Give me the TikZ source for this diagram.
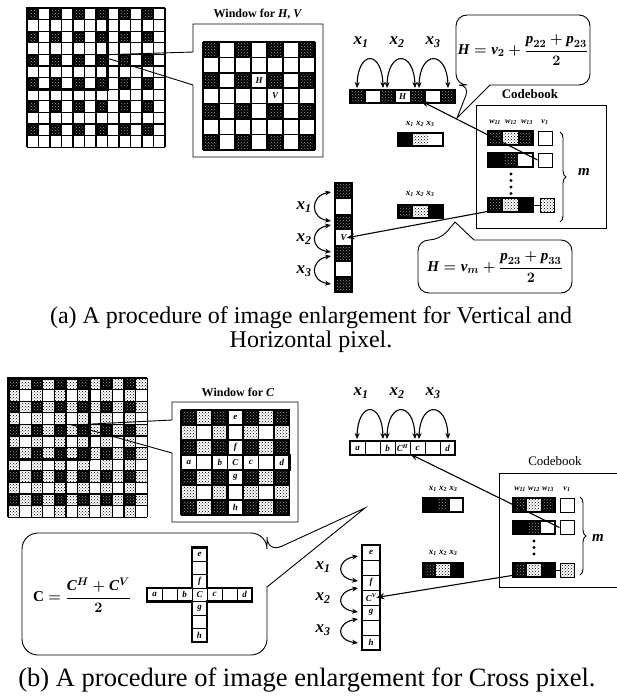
\documentclass[tikz,border=0pt]{standalone}
\usepackage{fontspec}
\usepackage{amsmath}
\setmainfont{Liberation Serif}
\usetikzlibrary{patterns,arrows.meta,decorations.pathreplacing}

\newcommand{\dkcell}[4]{%
  \fill[black] ({#1},{#2}) rectangle ({#1+#3},{#2+#4});
  \fill[pattern=crosshatch dots, pattern color=white!60!black] ({#1+1.8},{#2+1.8}) rectangle ({#1+#3-1.8},{#2+#4-1.8});}
\newcommand{\ltcell}[4]{%
  \fill[pattern=crosshatch dots, pattern color=black] ({#1},{#2}) rectangle ({#1+#3},{#2+#4});}
\newcommand{\bkcell}[4]{\fill[black] ({#1},{#2}) rectangle ({#1+#3},{#2+#4});}
\newcommand{\gridlines}[7]{%
  \foreach \gi in {0,...,#3} {\draw[line width=#7] ({#1+\gi*#5},{#2}) -- ({#1+\gi*#5},{#2+#4*#6});}
  \foreach \gj in {0,...,#4} {\draw[line width=#7] ({#1},{#2+\gj*#6}) -- ({#1+#3*#5},{#2+\gj*#6});}}

\begin{document}
\begin{tikzpicture}[x=1pt,y=-1pt,
  xlab/.style={font=\bfseries\itshape\fontsize{17}{17}\selectfont, inner sep=0},
  smlab/.style={font=\bfseries\itshape\fontsize{9}{9}\selectfont, inner sep=0},
  wlab/.style={font=\bfseries\itshape\fontsize{8}{8}\selectfont, inner sep=0},
  cellet/.style={font=\bfseries\itshape\fontsize{9}{9}\selectfont, inner sep=0},
  frm/.style={font=\bfseries\boldmath\fontsize{15}{15}\selectfont, inner sep=0},
  capt/.style={font=\fontsize{24}{24}\selectfont, inner sep=0},
  ttl/.style={font=\bfseries\fontsize{12}{12}\selectfont, inner sep=0},
  bub/.style={line width=0.9},
  arc/.style={{Stealth[length=6,width=5]}-{Stealth[length=6,width=5]}, line width=1.1},
  conn/.style={-{Stealth[length=8,width=6]}, line width=1.1},
  vbox/.style={draw, line width=1, minimum width=14, minimum height=14, inner sep=0, fill=white}]
\useasboundingbox (0,0) rectangle (617,696);

%================= (a) =================
% big image grid
\foreach \ri in {0,...,11}{\foreach \ci in {0,...,11}{%
  \ifodd\ri\else\ifodd\ci\else\dkcell{27+\ci*11.5}{8+\ri*11.6}{11.5}{11.6}\fi\fi}}
\gridlines{27}{8}{12}{12}{11.5}{11.6}{1.1}
\draw[line width=2.6] (27,8) rectangle ({27+7*11.5},{8+7*11.6});

% window callout
\coordinate (tipA) at (97,55);
\draw[line width=0.9] (193,52) -- (tipA) -- (193,85) -- (193,157) -- (323,157) -- (323,24) -- (193,24) -- cycle;
\node[ttl] (wlabA) at (258,14) {Window for \textit{H}, \textit{V}};
\foreach \ri in {0,...,6}{\foreach \ci in {0,...,6}{%
  \ifodd\ri\else\ifodd\ci\else\dkcell{203+\ci*16}{42+\ri*15.4}{16}{15.4}\fi\fi}}
\gridlines{203}{42}{7}{7}{16}{15.4}{1.6}
\node[cellet] (wH) at (259,80.5) {H};
\node[cellet] (wV) at (275,96) {V};

% horizontal strip with H
\foreach \ci in {0,2,4,6} {\dkcell{350+\ci*15}{90}{15}{13}}
\gridlines{350}{90}{7}{1}{15}{13}{1}
\draw[line width=2] (350,90) rectangle (455,103);
\node[cellet] (sH) at (402.5,96.5) {H};
\coordinate (sHend) at (421,101);
\node[xlab] (ax1) at (361,42) {x\textsubscript{1}};
\node[xlab] (ax2) at (397,42) {x\textsubscript{2}};
\node[xlab] (ax3) at (433,42) {x\textsubscript{3}};
\draw[arc] (357,88) .. controls (358,50) and (382,50) .. (383,88);
\draw[arc] (387,88) .. controls (388,50) and (414,50) .. (415,88);
\draw[arc] (419,88) .. controls (420,50) and (447,50) .. (448,88);

% upper bubble
\draw[bub] (490,85) [rounded corners=11] -- (590,85) -- (590,15) -- (456,15) -- (456,85) -- (470,85) [sharp corners] -- (457,118) -- cycle;
\node[frm] (fA1) at (523,50) {$\text{\itshape H} = \text{\itshape v}_{2} + \dfrac{\text{\itshape p}_{22} + \text{\itshape p}_{23}}{2}$};

% codebook (a)
\node[font=\bfseries\fontsize{13}{13}\selectfont, inner sep=0] (cbtA) at (530,94) {Codebook};
\draw[line width=0.9] (476,105) rectangle (606,228);
\node[wlab] (aw11) at (495,122) {w\textsubscript{11}};
\node[wlab] (aw12) at (511,122) {w\textsubscript{12}};
\node[wlab] (aw13) at (527,122) {w\textsubscript{13}};
\node[wlab] (av1) at (545,122) {v\textsubscript{1}};
% row 1
\dkcell{488}{131}{15}{14} \ltcell{503}{131}{15}{14} \dkcell{518}{131}{15}{14}
\draw[line width=1.2] (488,131) rectangle (533,145);
\node[vbox] (avb1) at (545,138) {};
% row 2
\bkcell{488}{153}{15}{14} \dkcell{503}{153}{15}{14}
\draw[line width=1.2] (488,153) rectangle (533,167);
\node[vbox] (avb2) at (545,160) {};
% dots
\foreach \yy in {174,180.5,187,193.5} {\fill (511,\yy) circle (1.6);}
% row m
\dkcell{488}{198}{15}{14} \ltcell{503}{198}{15}{14} \bkcell{518}{198}{15}{14}
\draw[line width=1.2] (488,198) rectangle (533,212);
\node[vbox, pattern=crosshatch dots] (avbm) at (547,205) {};
\coordinate (awm) at (490,211);
\draw[line width=1] (533,205) -- (avbm.west);
\draw[decorate, decoration={brace, amplitude=6}, line width=0.9] (560,132) -- (560,222);
\node[font=\bfseries\itshape\fontsize{15}{15}\selectfont, inner sep=0] (amlab) at (584,172) {m};

% small example strips (a)
\node[smlab] (as1) at (420,124) {x\textsubscript{1} x\textsubscript{2} x\textsubscript{3}};
\bkcell{398}{133}{15}{13} \ltcell{413}{133}{15}{13}
\draw[line width=1.1] (398,133) rectangle (443,146);
\node[smlab] (as2) at (420,194) {x\textsubscript{1} x\textsubscript{2} x\textsubscript{3}};
\dkcell{398}{205}{15}{13} \ltcell{413}{205}{15}{13} \bkcell{428}{205}{15}{13}
\draw[line width=1.1] (398,205) rectangle (443,218);

% vertical strip with V
\foreach \ri in {0,2,4,6} {\dkcell{335}{183+\ri*15.6}{17}{15.6}}
\gridlines{335}{183}{1}{7}{17}{15.6}{1}
\draw[line width=2] (335,183) rectangle (352,292.2);
\node[cellet] (sV) at (343.5,237.8) {V};
\node[xlab] (avx1) at (304,207) {x\textsubscript{1}};
\node[xlab] (avx2) at (304,239) {x\textsubscript{2}};
\node[xlab] (avx3) at (304,271) {x\textsubscript{3}};
\draw[arc] (331,192) .. controls (310,196) and (310,218) .. (331,221);
\draw[arc] (331,225) .. controls (310,229) and (310,249) .. (331,252);
\draw[arc] (331,256) .. controls (310,260) and (310,281) .. (331,284);

% connectors (a)
\draw[conn] (avb2.west) -- (sHend);
\draw[conn] (awm) -- (sV.east);

% lower bubble
\draw[bub] (474,240) [rounded corners=11] -- (572,240) -- (572,293) -- (418,293) -- (418,240) -- (440,240) [sharp corners] -- (455,222) -- cycle;
\node[frm] (fA2) at (495,267) {$\text{\itshape H} = \text{\itshape v}_{m} + \dfrac{\text{\itshape p}_{23} + \text{\itshape p}_{33}}{2}$};

% caption (a)
\node[capt] (capA1) at (311,318) {(a) A procedure of image enlargement for Vertical and};
\node[capt] (capA2) at (311,342) {Horizontal pixel.};

%================= (b) =================
\foreach \ri in {0,...,11}{\foreach \ci in {0,...,11}{%
  \ifodd\ri \ifodd\ci\else\ltcell{8+\ci*11.6}{378+\ri*11.6}{11.6}{11.6}\fi
  \else \ifodd\ci\ltcell{8+\ci*11.6}{378+\ri*11.6}{11.6}{11.6}\else\dkcell{8+\ci*11.6}{378+\ri*11.6}{11.6}{11.6}\fi\fi}}
\gridlines{8}{378}{12}{12}{11.6}{11.6}{1.1}
\draw[line width=3] (8,378) rectangle ({8+7*11.6},{378+7*11.6});

\coordinate (tipB) at (72,425);
\draw[line width=0.9] (172,420) -- (tipB) -- (172,453) -- (172,522) -- (298,522) -- (298,402) -- (172,402) -- cycle;
\node[ttl] (wlabB) at (238,392) {Window for \textit{C}};
\foreach \ri in {0,...,6}{\foreach \ci in {0,...,6}{%
  \ifnum\ci=3 \else\ifnum\ri=3 \else
  \ifodd\ri \ifodd\ci\else\ltcell{181+\ci*15.5}{410+\ri*15}{15.5}{15}\fi
  \else \ifodd\ci\ltcell{181+\ci*15.5}{410+\ri*15}{15.5}{15}\else\dkcell{181+\ci*15.5}{410+\ri*15}{15.5}{15}\fi\fi
  \fi\fi}}
\gridlines{181}{410}{7}{7}{15.5}{15}{1.4}
\draw[line width=2.4] (227.5,410) -- (243,410) -- (243,455) -- (289.5,455) -- (289.5,470) -- (243,470) -- (243,515) -- (227.5,515) -- (227.5,470) -- (181,470) -- (181,455) -- (227.5,455) -- cycle;
\node[cellet] (wbe) at (235.25,417.5) {e};
\node[cellet] (wbf) at (235.25,447.5) {f};
\node[cellet] (wbC) at (235.25,462.5) {C};
\node[cellet] (wbg) at (235.25,477.5) {g};
\node[cellet] (wbh) at (235.25,507.5) {h};
\node[cellet] (wba) at (188.75,462.5) {a};
\node[cellet] (wbb) at (219.75,462.5) {b};
\node[cellet] (wbc) at (250.75,462.5) {c};
\node[cellet] (wbd) at (281.75,462.5) {d};

% horizontal strip (b)
\gridlines{350}{441}{7}{1}{15}{14}{1}
\draw[line width=2] (350,441) rectangle (455,455);
\node[cellet] (hba) at (357.5,448) {a};
\node[cellet] (hbb) at (387.5,448) {b};
\node[cellet] (hbC) at (402.5,448) {C\textsuperscript{H}};
\node[cellet] (hbc) at (417.5,448) {c};
\node[cellet] (hbd) at (447.5,448) {d};
\coordinate (hbCend) at (410,454);
\node[xlab] (bx1) at (361,393) {x\textsubscript{1}};
\node[xlab] (bx2) at (397,393) {x\textsubscript{2}};
\node[xlab] (bx3) at (433,393) {x\textsubscript{3}};
\draw[arc] (357,439) .. controls (358,401) and (382,401) .. (383,439);
\draw[arc] (387,439) .. controls (388,401) and (414,401) .. (415,439);
\draw[arc] (419,439) .. controls (420,401) and (447,401) .. (448,439);

% codebook (b)
\node[font=\fontsize{13}{13}\selectfont, inner sep=0] (cbtB) at (555,461) {Codebook};
\draw[line width=0.9] (499,473) rectangle (625,587);
\node[wlab] (bw11) at (520,489) {w\textsubscript{11}};
\node[wlab] (bw12) at (534,489) {w\textsubscript{12}};
\node[wlab] (bw13) at (548,489) {w\textsubscript{13}};
\node[wlab] (bv1) at (567,489) {v\textsubscript{1}};
\dkcell{513}{498}{14}{14} \ltcell{527}{498}{14}{14} \dkcell{541}{498}{14}{14}
\draw[line width=1.2] (513,498) rectangle (555,512);
\node[vbox] (bvb1) at (567,505) {};
\bkcell{513}{521}{14}{13} \dkcell{527}{521}{14}{13}
\draw[line width=1.2] (513,521) rectangle (555,534);
\node[vbox] (bvb2) at (567,527.5) {};
\foreach \yy in {541,547.5,554} {\fill (534,\yy) circle (1.6);}
\dkcell{513}{563}{14}{14} \ltcell{527}{563}{14}{14} \bkcell{541}{563}{14}{14}
\draw[line width=1.2] (513,563) rectangle (555,577);
\node[vbox, pattern=crosshatch dots] (bvbm) at (567,570) {};
\draw[line width=1] (555,570) -- (bvbm.west);
\coordinate (bwm) at (515,575);
\draw[decorate, decoration={brace, amplitude=6}, line width=0.9] (580,497) -- (580,575);
\node[font=\bfseries\itshape\fontsize{15}{15}\selectfont, inner sep=0] (bmlab) at (598,538) {m};

% small example strips (b)
\node[smlab] (bs1) at (443,489) {x\textsubscript{1} x\textsubscript{2} x\textsubscript{3}};
\bkcell{423}{498}{13.3}{14} \dkcell{436.3}{498}{13.3}{14}
\draw[line width=1.1] (423,498) rectangle (463,512);
\node[smlab] (bs2) at (443,553) {x\textsubscript{1} x\textsubscript{2} x\textsubscript{3}};
\dkcell{423}{563}{13.3}{14} \ltcell{436.3}{563}{13.3}{14} \bkcell{449.6}{563}{13.4}{14}
\draw[line width=1.1] (423,563) rectangle (463,577);

% vertical strip (b)
\gridlines{362}{545}{1}{7}{18}{15}{1}
\draw[line width=2] (362,545) rectangle (380,650);
\node[cellet] (vbe) at (371,552.5) {e};
\node[cellet] (vbf) at (371,582.5) {f};
\node[cellet] (vbC) at (371,597.5) {C\textsuperscript{V}};
\node[cellet] (vbg) at (371,612.5) {g};
\node[cellet] (vbh) at (371,642.5) {h};
\node[xlab] (bvx1) at (323,567) {x\textsubscript{1}};
\node[xlab] (bvx2) at (323,598) {x\textsubscript{2}};
\node[xlab] (bvx3) at (323,630) {x\textsubscript{3}};
\draw[arc] (358,556) .. controls (336,560) and (336,578) .. (358,581);
\draw[arc] (358,588) .. controls (336,592) and (336,609) .. (358,612);
\draw[arc] (358,619) .. controls (336,623) and (336,640) .. (358,643);

% connectors (b)
\draw[conn] (bvb2.west) -- (hbCend);
\draw[conn] (bwm) -- (vbC.east);

% big bubble (b)
\draw[bub] (267,587) [rounded corners=16] -- (267,655) -- (22,655) -- (22,533) -- (267,533) -- (267,553) [sharp corners] -- (365,508) -- cycle;
\node[frm] (fB) at (82,595) {$\text{\upshape C} = \dfrac{\text{\itshape C}^{H} + \text{\itshape C}^{V}}{2}$};
\gridlines{147}{588}{7}{1}{15}{13.5}{1}
\gridlines{192}{547.5}{1}{7}{15}{13.5}{1}
\draw[line width=2.2] (192,547.5) -- (207,547.5) -- (207,588) -- (252,588) -- (252,601.5) -- (207,601.5) -- (207,642) -- (192,642) -- (192,601.5) -- (147,601.5) -- (147,588) -- (192,588) -- cycle;
\node[cellet] (xa) at (154.5,594.75) {a};
\node[cellet] (xb) at (184.5,594.75) {b};
\node[cellet] (xC) at (199.5,594.75) {C};
\node[cellet] (xc) at (214.5,594.75) {c};
\node[cellet] (xd) at (244.5,594.75) {d};
\node[cellet] (xe) at (199.5,554.25) {e};
\node[cellet] (xf) at (199.5,581.25) {f};
\node[cellet] (xg) at (199.5,608.25) {g};
\node[cellet] (xh) at (199.5,635.25) {h};

% caption (b)
\node[font=\fontsize{26.5}{26.5}\selectfont, inner sep=0] (capB) at (307,680) {(b) A procedure of image enlargement for Cross pixel.};
\end{tikzpicture}
\end{document}
